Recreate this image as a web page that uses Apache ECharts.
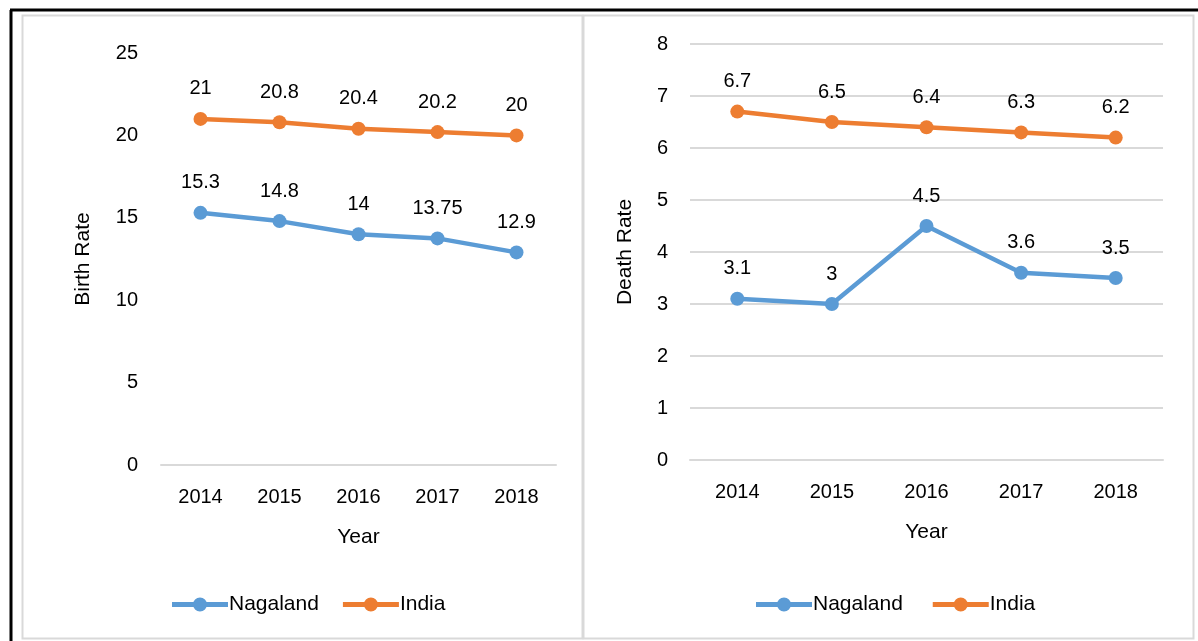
<!DOCTYPE html>
<html>
<head>
<meta charset="utf-8">
<script src="https://cdn.jsdelivr.net/npm/echarts@6/dist/echarts.min.js"></script>
<style>
  html, body { margin: 0; padding: 0; background: #fff; }
  #chart { width: 1198px; height: 641px; }
</style>
</head>
<body>
<div id="chart"></div>
<script>
// years on both x axes
var years = ['2014', '2015', '2016', '2017', '2018'];

// birth rate per 1000
var birthNagaland = [15.3, 14.8, 14, 13.75, 12.9];
var birthIndia = [21, 20.8, 20.4, 20.2, 20];

// death rate per 1000
var deathNagaland = [3.1, 3, 4.5, 3.6, 3.5];
var deathIndia = [6.7, 6.5, 6.4, 6.3, 6.2];

var BLUE = '#5B9BD5';
var ORANGE = '#ED7D31';
var FONT = 'Liberation Sans';
var TXT = '#000';
var FS = 20;

function lineSeries(name, color, data, idx) {
    return {
        name: name,
        type: 'line',
        xAxisIndex: idx,
        yAxisIndex: idx,
        data: data,
        symbol: 'circle',
        symbolSize: 14,
        lineStyle: { width: 4.5, color: color },
        itemStyle: { color: color },
        label: {
            show: true,
            position: 'top',
            distance: 13,
            color: TXT,
            fontFamily: FONT,
            fontSize: FS
        },
        animation: false
    };
}

function xAx(idx) {
    return {
        type: 'category',
        gridIndex: idx,
        data: years,
        boundaryGap: true,
        name: 'Year',
        nameLocation: 'middle',
        nameGap: 62,
        nameTextStyle: { color: TXT, fontFamily: FONT, fontSize: 21 },
        axisLine: { show: true, lineStyle: { color: '#D9D9D9', width: 2 } },
        axisTick: { show: false },
        axisLabel: { color: TXT, fontFamily: FONT, fontSize: FS, margin: 22 }
    };
}

function yAx(idx, max, interval, name, grid, gap) {
    return {
        type: 'value',
        gridIndex: idx,
        min: 0,
        max: max,
        interval: interval,
        name: name,
        nameLocation: 'middle',
        nameGap: gap,
        nameTextStyle: { color: TXT, fontFamily: FONT, fontSize: 21 },
        axisLine: { show: false },
        axisTick: { show: false },
        splitLine: { show: grid, lineStyle: { color: '#D9D9D9', width: 2 } },
        axisLabel: { color: TXT, fontFamily: FONT, fontSize: FS, margin: grid ? 22 : 23 }
    };
}

var legendStyle = {
    icon: 'path://M0,5 L56,5 L56,10 L0,10 Z M28,0.5 A7,7 0 1,1 28,14.5 A7,7 0 1,1 28,0.5 Z',
    itemWidth: 56,
    itemHeight: 15,
    itemGap: 24,
    textStyle: { color: TXT, fontFamily: FONT, fontSize: 21, padding: [0, 0, 0, -4] }
};

var option = {
    backgroundColor: '#fff',
    animation: false,
    graphic: [
        { type: 'rect', shape: { x: 22.5, y: 15.5, width: 560, height: 623 },
          style: { fill: 'none', stroke: '#D9D9D9', lineWidth: 2 } },
        { type: 'rect', shape: { x: 583.5, y: 15.5, width: 610, height: 623 },
          style: { fill: 'none', stroke: '#D9D9D9', lineWidth: 2 } },
        { type: 'line', shape: { x1: 10, y1: 10, x2: 1198, y2: 10 },
          style: { stroke: '#000', lineWidth: 3 } },
        { type: 'line', shape: { x1: 11, y1: 10, x2: 11, y2: 641 },
          style: { stroke: '#000', lineWidth: 3 } }
    ],
    legend: [
        Object.assign({ left: 167, top: 589, data: ['Nagaland', 'India'] }, legendStyle),
        Object.assign({ left: 751, top: 589, data: ['Nagaland ', 'India '] }, legendStyle)
    ],
    grid: [
        { left: 161, right: 642, top: 53, bottom: 176 },
        { left: 690, right: 35, top: 44, bottom: 181 }
    ],
    xAxis: [xAx(0), xAx(1)],
    yAxis: [
        yAx(0, 25, 5, 'Birth Rate', false, 67),
        yAx(1, 8, 1, 'Death Rate', true, 54)
    ],
    series: [
        lineSeries('Nagaland', BLUE, birthNagaland, 0),
        lineSeries('India', ORANGE, birthIndia, 0),
        lineSeries('Nagaland ', BLUE, deathNagaland, 1),
        lineSeries('India ', ORANGE, deathIndia, 1)
    ]
};

var myChart = echarts.init(document.getElementById('chart'), null, { renderer: 'canvas' });
myChart.setOption(option);
</script>
</body>
</html>
